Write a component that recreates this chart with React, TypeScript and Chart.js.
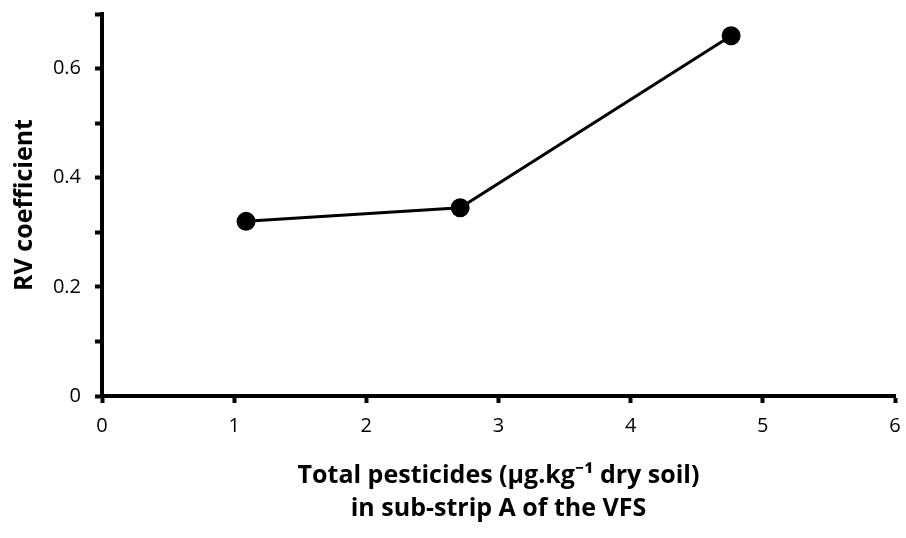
import React, { useEffect, useRef } from "react";
import { Chart, registerables } from "chart.js";

Chart.register(...registerables);

const xValues = [1.09, 2.71, 4.76];
const yValues = [0.32, 0.345, 0.66];
const yTickLabels = ["0", "", "0.2", "", "0.4", "", "0.6", ""];
const xTitle = ["Total pesticides (µg.kg⁻¹ dry soil)", "in sub-strip A of the VFS"];
const yTitle = "RV coefficient";

const FONT = "'Open Sans', 'Noto Sans', sans-serif";

export default function App() {
  const ref = useRef<HTMLCanvasElement | null>(null);
  useEffect(() => {
    if (!ref.current) return;
    const chart = new Chart(ref.current, {
      type: "line",
      data: {
        datasets: [
          {
            data: xValues.map((x, i) => ({ x, y: yValues[i] })),
            borderColor: "#000",
            backgroundColor: "#000",
            borderWidth: 3,
            pointRadius: 9.5,
            pointHoverRadius: 9.5,
            pointBackgroundColor: "#000",
            pointBorderColor: "#000",
            pointBorderWidth: 0,
            tension: 0,
          },
        ],
      },
      options: {
        responsive: false,
        animation: false,
        color: "#000",
        layout: { padding: { top: 14, right: 11, left: 0, bottom: 0 } },
        plugins: { legend: { display: false }, tooltip: { enabled: false } },
        scales: {
          x: {
            type: "linear",
            min: 0,
            max: 6,
            afterFit: (s: any) => {
              s.height = 142;
              s.paddingLeft = 0;
              s.paddingRight = 0;
            },
            ticks: {
              stepSize: 1,
              color: "#000",
              padding: 11,
              font: { family: FONT, size: 20 },
            },
            grid: {
              drawOnChartArea: false,
              drawTicks: true,
              tickLength: 7,
              tickWidth: 4,
              tickColor: "#000",
            },
            border: { display: true, color: "#000", width: 4 },
            title: {
              display: true,
              text: xTitle,
              color: "#000",
              font: { family: FONT, size: 25, weight: "bold", lineHeight: 1.32 },
              padding: { top: 0, bottom: 13 },
            },
          },
          y: {
            min: 0,
            max: 0.7,
            afterFit: (s: any) => {
              s.width = 102;
              s.paddingTop = 0;
              s.paddingBottom = 0;
            },
            ticks: {
              stepSize: 0.1,
              color: "#000",
              padding: 14,
              font: { family: FONT, size: 20 },
              callback: (v: any) => yTickLabels[Math.round(Number(v) * 10)] ?? "",
            },
            grid: {
              drawOnChartArea: false,
              drawTicks: true,
              tickLength: 7,
              tickWidth: 4,
              tickColor: "#000",
            },
            border: { display: true, color: "#000", width: 4 },
            title: {
              display: true,
              text: yTitle,
              color: "#000",
              font: { family: FONT, size: 25, weight: "bold", lineHeight: 1.2 },
              padding: { top: 10, bottom: 0 },
            },
          },
        },
      },
    });
    return () => chart.destroy();
  }, []);
  return (
    <div style={{ position: "absolute", left: 0, top: 0, width: 906, height: 538, background: "#fff" }}>
      <canvas ref={ref} width={906} height={538} />
    </div>
  );
}
